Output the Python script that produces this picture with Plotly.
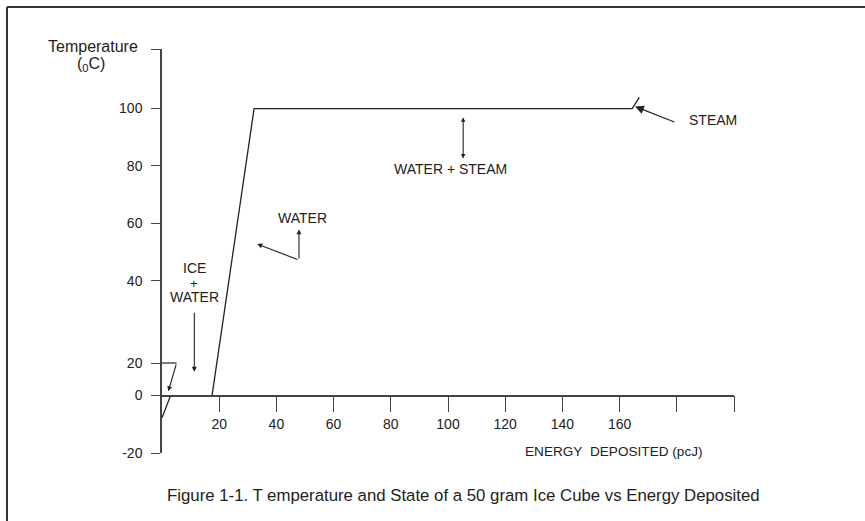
import plotly.graph_objects as go

# ---- data ----
energy = [0, 3.0, 17.5, 32.2, 164.4, 166.9]          # pcJ
temperature = [-7.7, 0, 0, 100, 100, 103.9]          # deg C

x_tick_vals = [20, 40, 60, 80, 100, 120, 140, 160, 180, 200]
x_tick_text = ["20", "40", "60", "80", "100", "120", "140", "160", "", ""]
# the "20" label sits noticeably low on the printed axis
y_tick_vals = [-20, 0, 11.35, 40, 60, 80, 100, 120.7]
y_tick_text = ["-20", "0", "20", "40", "60", "80", "100", ""]

# ---- layout geometry (pixels) ----
W, H = 865, 521
L, R, T, B = 162, 734, 49, 453
PW, PH = R - L, B - T


def px(p):
    return (p - L) / PW


def py(p):
    return (B - p) / PH


FONT = "Liberation Sans, Arial, Helvetica, sans-serif"
INK = "#222222"
AX = "#444444"

fig = go.Figure()
fig.add_trace(go.Scatter(x=energy, y=temperature, mode="lines",
                         line=dict(color=INK, width=1.3), showlegend=False,
                         hoverinfo="skip", cliponaxis=False))

fig.update_layout(
    width=W, height=H,
    margin=dict(l=L, r=W - R, t=T, b=H - B),
    paper_bgcolor="white", plot_bgcolor="white",
    font=dict(family=FONT, size=14, color=INK),
    showlegend=False,
    xaxis=dict(range=[0, 200], showgrid=False, zeroline=False,
               showline=True, linecolor=AX, linewidth=1.5,
               anchor="free", position=20 / 140.75,
               ticks="outside", ticklen=16, tickwidth=1.2, tickcolor=AX,
               tickvals=x_tick_vals, ticktext=x_tick_text,
               tickfont=dict(size=14, color=INK)),
    yaxis=dict(range=[-20, 120.75], showgrid=False, zeroline=False,
               showline=True, linecolor=AX, linewidth=1.5,
               ticks="outside", ticklen=9, tickwidth=1.2, tickcolor=AX,
               tickvals=y_tick_vals, ticktext=y_tick_text,
               ticklabelstandoff=6,
               tickfont=dict(size=14, color=INK)),
)

shapes = [
    # frame of the figure panel
    dict(type="line", xref="paper", yref="paper", x0=px(7), x1=px(866), y0=py(7), y1=py(7),
         line=dict(color="#333333", width=2)),
    dict(type="line", xref="paper", yref="paper", x0=px(7), x1=px(7), y0=py(7), y1=py(522),
         line=dict(color="#333333", width=2)),
    # continuation of the "20" tick into the arrow
    dict(type="line", xref="x", yref="y", x0=0, x1=5.1, y0=11.35, y1=11.35,
         line=dict(color=INK, width=1.2)),
]
fig.update_layout(shapes=shapes)


def arrow(x, y, ax, ay, head=2, size=1.0, side="end"):
    fig.add_annotation(x=x, y=y, ax=ax, ay=ay, xref="x", yref="y", axref="x", ayref="y",
                       text="", showarrow=True, arrowhead=head, arrowsize=size,
                       arrowwidth=1.1, arrowcolor=INK, arrowside=side, startarrowhead=head,
                       startarrowsize=size)


def label(x, y, text, size=14, xanchor="center", xref="x", yref="y"):
    fig.add_annotation(x=x, y=y, xref=xref, yref=yref, text=text, showarrow=False,
                       xanchor=xanchor, yanchor="middle",
                       font=dict(family=FONT, size=size, color=INK))


# ICE arrow from the "20" tick
arrow(2.2, 1.5, 5.1, 11.35, head=2, size=0.9)

# ICE + WATER
label(11.3, 44.4, "ICE")
label(11.3, 39.2, "+", size=13)
label(11.3, 34.3, "WATER")
arrow(11.3, 8.3, 11.3, 29.4, head=2, size=0.9)

# WATER
label(49.1, 61.9, "WATER")
arrow(47.9, 57.9, 47.9, 47.2, head=2, size=0.9)
arrow(33.3, 52.8, 47.9, 47.2, head=2, size=0.9)

# WATER + STEAM
label(100.7, 78.8, "WATER + STEAM")
arrow(105.3, 96.9, 105.3, 82.1, head=2, size=0.8, side="end+start")

# STEAM
label(183.5, 96.0, "STEAM", xanchor="left")
arrow(165.4, 100.7, 179.7, 95.1, head=2, size=1.6)

# axis texts
label(px(614), py(451.7), "ENERGY\u00a0\u00a0DEPOSITED (pcJ)", size=13.6, xref="paper", yref="paper")
label(px(93), py(46.5), "Temperature", size=16, xref="paper", yref="paper")
label(px(90.5), py(64), "(<sub>0</sub>C)", size=16, xref="paper", yref="paper")

# caption
label(px(463.5), py(495), "Figure 1-1. T emperature and State of a 50 gram Ice Cube vs Energy Deposited",
      size=16.8, xref="paper", yref="paper")

fig.write_html("out.html", config={"displayModeBar": False},
               post_script="document.body.style.margin='0';document.body.style.overflow='hidden';")
